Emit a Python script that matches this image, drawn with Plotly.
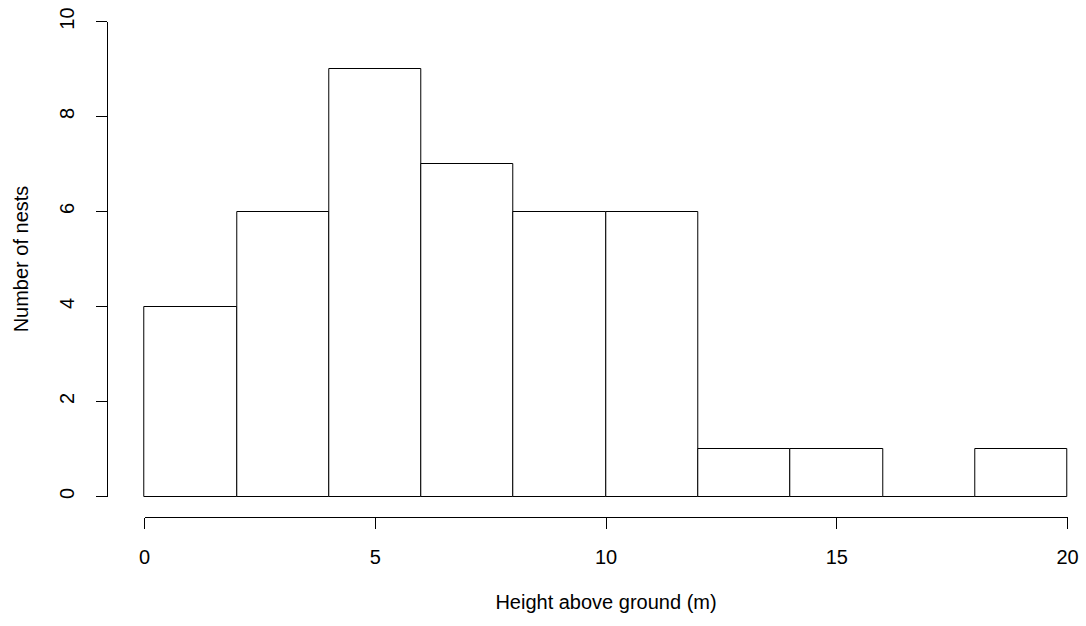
import plotly.graph_objects as go

# Histogram of nest heights: bin edges (m) and counts per bin
bin_left = [0, 2, 4, 6, 8, 10, 12, 14, 16, 18]
bin_width = [2, 2, 2, 2, 2, 2, 2, 2, 2, 2]
nest_counts = [4, 6, 9, 7, 6, 6, 1, 1, 0, 1]

x_ticks = [0, 5, 10, 15, 20]
y_ticks = [0, 2, 4, 6, 8, 10]

W, H = 1086, 626
FONT = dict(family="Liberation Sans, Arial, sans-serif", size=20, color="#000000")

# pixel mapping shared by the bar axes and the drawn axes
X0_PX, X20_PX = 144.5, 1067.5      # x = 0 and x = 20
Y0_PX, Y10_PX = 496.5, 21.5        # y = 0 and y = 10
PX_PER_X = (X20_PX - X0_PX) / 20
PX_PER_Y = (Y0_PX - Y10_PX) / 10
PAD_X, PAD_Y = 0.2, 0.2            # room so bar outlines on the edges are not clipped


def px_x(p):
    return p / W


def px_y(p):
    return (H - p) / H


fig = go.Figure()
fig.add_trace(
    go.Bar(
        x=bin_left,
        y=nest_counts,
        width=bin_width,
        offset=0,
        marker=dict(color="white", line=dict(color="black", width=1)),
        hoverinfo="x+y",
    )
)
# empty trace that carries the visible axes
fig.add_trace(go.Scatter(x=[], y=[], xaxis="x2", yaxis="y2", hoverinfo="skip"))

tick_common = dict(
    showline=True,
    linecolor="black",
    linewidth=1,
    showgrid=False,
    zeroline=False,
    tickmode="array",
    ticks="outside",
    ticklen=11,
    tickwidth=1,
    tickcolor="black",
    tickfont=FONT,
    automargin=False,
)

fig.update_layout(
    width=W,
    height=H,
    margin=dict(l=0, r=0, t=0, b=0, autoexpand=False),
    paper_bgcolor="white",
    plot_bgcolor="rgba(0,0,0,0)",
    showlegend=False,
    bargap=0,
    font=FONT,
    xaxis=dict(
        domain=[px_x(X0_PX - PAD_X * PX_PER_X), px_x(X20_PX + PAD_X * PX_PER_X)],
        range=[-PAD_X, 20 + PAD_X],
        anchor="y",
        visible=False,
        automargin=False,
    ),
    yaxis=dict(
        domain=[px_y(Y0_PX + PAD_Y * PX_PER_Y), px_y(Y10_PX - PAD_Y * PX_PER_Y)],
        range=[-PAD_Y, 10 + PAD_Y],
        anchor="x",
        visible=False,
        automargin=False,
    ),
    xaxis2=dict(
        domain=[px_x(X0_PX), px_x(X20_PX)],
        range=[0, 20],
        anchor="free",
        position=px_y(516.5),
        tickvals=x_ticks,
        ticktext=[str(v) for v in x_ticks],
        ticklabelstandoff=11,
        title=dict(text="Height above ground (m)", font=FONT, standoff=28),
        **tick_common,
    ),
    yaxis2=dict(
        domain=[px_y(Y0_PX), px_y(Y10_PX)],
        range=[0, 10],
        anchor="free",
        position=px_x(107),
        tickvals=y_ticks,
        ticktext=[str(v) for v in y_ticks],
        tickangle=-90,
        ticklabelstandoff=14,
        title=dict(text="Number of nests", font=FONT, standoff=21),
        **tick_common,
    ),
)

fig.write_html("out.html")
